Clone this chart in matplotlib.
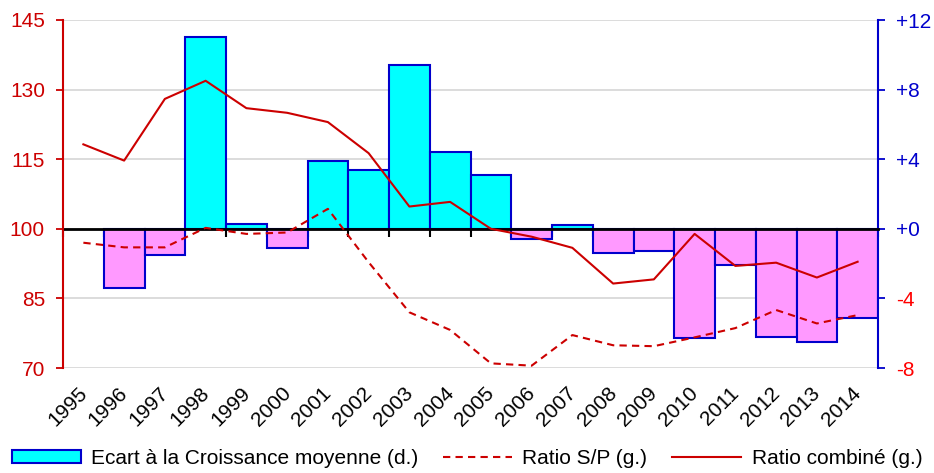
import matplotlib
matplotlib.use('Agg')
import matplotlib.pyplot as plt
import numpy as np
from matplotlib.patches import Patch
from matplotlib.lines import Line2D
from matplotlib.transforms import blended_transform_factory

plt.rcParams['font.family'] = ['Liberation Sans', 'DejaVu Sans']

# ---- data ----
years = ['1995', '1996', '1997', '1998', '1999', '2000', '2001', '2002', '2003', '2004',
         '2005', '2006', '2007', '2008', '2009', '2010', '2011', '2012', '2013', '2014']
ecart = [np.nan, -3.4, -1.5, 11.0, 0.3, -1.1, 3.9, 3.4, 9.4, 4.4,
         3.1, -0.6, 0.2, -1.4, -1.3, -6.3, -2.1, -6.2, -6.5, -5.1]
ratio_sp = [97.0, 96.0, 96.0, 100.2, 98.9, 99.2, 104.3, 92.8, 82.0, 78.2,
            71.0, 70.5, 77.1, 74.9, 74.7, 76.6, 78.6, 82.5, 79.6, 81.4]
ratio_comb = [118.2, 114.7, 128.0, 131.9, 126.0, 125.0, 123.0, 116.3, 104.8, 105.8,
              100.0, 98.3, 95.9, 88.2, 89.1, 98.9, 92.0, 92.7, 89.5, 92.9]
left_ticks = [70, 85, 100, 115, 130, 145]
right_ticks = [-8, -4, 0, 4, 8, 12]
legend_labels = ['Ecart à la Croissance moyenne (d.)', 'Ratio S/P (g.)', 'Ratio combiné (g.)']

RED = '#cc0000'
BLUE = '#0000cc'
CYAN = '#00ffff'
PINK = '#ff99ff'
FS = 15

fig = plt.figure(figsize=(9.34, 4.73), dpi=100)
ax = fig.add_axes([63/934, 1-368/473, (878-63)/934, 348/473])
ax2 = ax.twinx()

x = np.arange(len(years))

# bars (right axis)
bx = [i for i, v in enumerate(ecart) if not np.isnan(v)]
bv = [ecart[i] for i in bx]
bc = [CYAN if v >= 0 else PINK for v in bv]
ax.bar(bx, bv, width=1.0, color=bc, edgecolor=BLUE, linewidth=1.5, zorder=2)
ax.set_ylim(-8, 12)
ax.set_xlim(-0.5, len(years) - 0.5)
ax.yaxis.tick_right()
ax.set_yticks(right_ticks, labels=[f"{v:+d}" for v in right_ticks])
ax.tick_params(axis='y', direction='out', length=5, width=1.3, color=BLUE, labelsize=FS, pad=8)
for t, v in zip(ax.yaxis.get_ticklabels(), right_ticks):
    t.set_color(BLUE if v >= 0 else '#ff0000')
ax.grid(axis='y', color='#d9d9d9', linewidth=1.3, zorder=0)
ax.set_axisbelow(True)

# spines
for s in ['top', 'left']:
    ax.spines[s].set_visible(False)
ax.spines['right'].set_color(BLUE)
ax.spines['right'].set_linewidth(1.5)
ax.spines['bottom'].set_position(('data', 0))
ax.spines['bottom'].set_color('black')
ax.spines['bottom'].set_linewidth(2)
ax.spines['bottom'].set_zorder(3)
ax.set_xticks(np.arange(-0.5, len(years), 1.0))
ax.tick_params(axis='x', direction='out', length=6, width=1.5, color='black', labelbottom=False)

trans = blended_transform_factory(ax.transData, ax.transAxes)
for i, lab in enumerate(years):
    ax.text(i - 0.15, -0.045, lab, transform=trans, rotation=45, rotation_mode='anchor',
            ha='right', va='top', fontsize=FS, color='black')

# lines (left axis)
ax2.plot(x, ratio_sp, color=RED, linewidth=1.5, dashes=(3.5, 2.5), zorder=3)
ax2.plot(x, ratio_comb, color=RED, linewidth=1.5, zorder=3)
ax2.set_ylim(70, 145)
ax2.yaxis.tick_left()
ax2.set_yticks(left_ticks)
ax2.tick_params(axis='y', direction='out', length=5, width=1.3, color=RED, labelcolor=RED,
                labelsize=FS, pad=8)
for s in ['top', 'right', 'bottom']:
    ax2.spines[s].set_visible(False)
ax2.spines['left'].set_visible(True)
ax2.spines['left'].set_color(RED)
ax2.spines['left'].set_linewidth(1.5)
ax2.set_xlim(-0.5, len(years) - 0.5)

# legend
handles = [Patch(facecolor=CYAN, edgecolor=BLUE, linewidth=1.5),
           Line2D([], [], color=RED, linewidth=1.5, dashes=(3.5, 2.5)),
           Line2D([], [], color=RED, linewidth=1.5)]
fig.legend(handles, legend_labels, loc='center', bbox_to_anchor=(0.5, 1-458/473), ncol=3,
           frameon=False, fontsize=FS, handlelength=3.3, handleheight=0.6, handletextpad=0.5,
           columnspacing=1.2, borderaxespad=0, borderpad=0)

fig.savefig('out.png', dpi=100)
